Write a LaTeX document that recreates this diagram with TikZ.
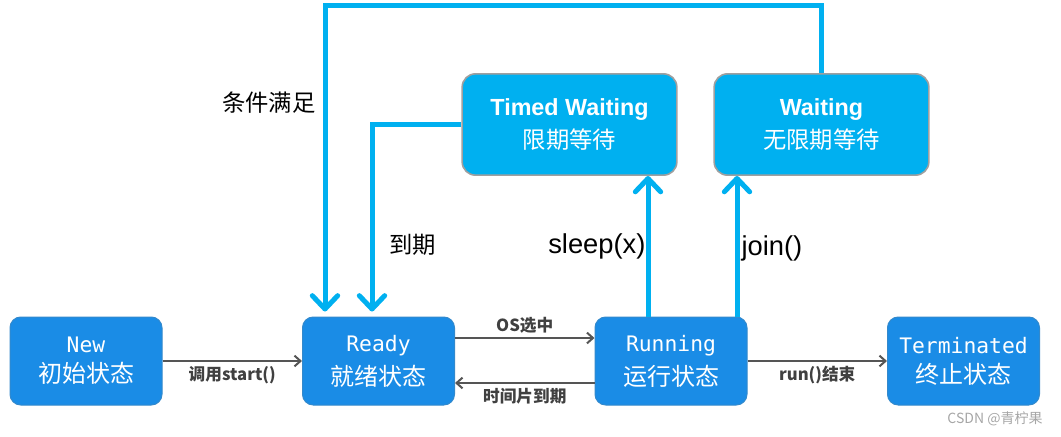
\documentclass[tikz,border=0pt]{standalone}
\usepackage{fontspec}
\setmainfont{Liberation Sans}
\newfontfamily\cjk{Noto Sans CJK SC}
\newfontfamily\monofont{DejaVu Sans Mono}
\usetikzlibrary{arrows.meta,calc}

\definecolor{stateblue}{HTML}{1A8CE6}
\definecolor{waitblue}{HTML}{00B0F0}
\definecolor{flowcyan}{HTML}{00B0F0}
\definecolor{linkgray}{HTML}{555555}
\definecolor{labelgray}{HTML}{404040}

\newcommand{\statetext}[2]{{\monofont\fontsize{16}{18}\selectfont #1}\\[6pt]{\cjk\fontsize{18}{22}\selectfont #2}}
\newcommand{\waittext}[2]{{\bfseries\fontsize{17.5}{20}\selectfont #1}\\[5pt]{\cjk\fontsize{17.5}{22}\selectfont #2}}

\tikzset{every picture/.style={line width=0.75pt}}
\tikzset{
  state/.style={draw=stateblue!75!gray, fill=stateblue, rounded corners=8pt,
    minimum width=114pt, minimum height=66pt, text=white, align=center, inner sep=0pt},
  waitstate/.style={draw=gray!75, line width=1.2pt, fill=waitblue, rounded corners=10pt,
    minimum width=161pt, minimum height=76pt, text=white, align=center, inner sep=0pt},
  flow/.style={draw=flowcyan, line width=3.75pt,
    -{Straight Barb[length=10pt, width=19pt, line width=3.75pt, round]}},
  link/.style={draw=linkgray, line width=1.5pt,
    -{Straight Barb[length=4.5pt, width=8pt, line width=1.5pt]}},
  linklabel/.style={font=\cjk\bfseries\fontsize{12.5}{14}\selectfont, text=labelgray, inner sep=3pt},
  flowlabel/.style={font=\fontsize{20.5}{24}\selectfont, inner sep=0pt},
  cjklabel/.style={font=\cjk\fontsize{17.5}{20}\selectfont, inner sep=0pt}
}

\begin{document}
\begin{tikzpicture}[x=0.75pt,y=0.75pt,yscale=-1,xscale=1]
  \useasboundingbox (0,0) rectangle (1061,436);

  % states
  \node[state] (new) at (86,361) {\statetext{New}{初始状态}};
  \node[state] (ready) at (378.5,361) {\statetext{Ready}{就绪状态}};
  \node[state] (running) at (671,361) {\statetext{Running}{运行状态}};
  \node[state] (term) at (963.5,361) {\statetext{Terminated}{终止状态}};
  \node[waitstate] (timed) at (569.5,124.5) {\waittext{Timed Waiting}{限期等待}};
  \node[waitstate] (waiting) at (821.5,124.5) {\waittext{Waiting}{无限期等待}};

  % thin transitions
  \draw[link] (new.east) -- node[linklabel,below] (lstart) {调用start()} (ready.west);
  \draw[link] ($(ready.east)+(0,-23)$) -- node[linklabel,above] (los) {OS选中} ($(running.west)+(0,-23)$);
  \draw[link] ($(running.west)+(0,22)$) -- node[linklabel,below] (lslice) {时间片到期} ($(ready.east)+(0,22)$);
  \draw[link] (running.east) -- node[linklabel,below] (lrun) {run()结束} (term.west);

  % thick transitions
  \coordinate (topleft) at (325,5);
  \draw[flow] ($(running.north)+(-23,0)$) coordinate (sl) -- (sl |- timed.south);
  \draw[flow] ($(running.north)+(66,0)$) coordinate (jn) -- (jn |- waiting.south);
  \draw[flow] (timed.west) -| ($(ready.north)+(-6.5,-5)$);
  \draw[flow] (waiting.north) |- (topleft) -- ($(ready.north)+(-53.5,-5)$);

  \node[flowlabel,anchor=east] (lsleep) at (646,246) {sleep(x)};
  \node[flowlabel,anchor=west] (ljoin) at (741,248) {join()};
  \node[cjklabel,anchor=west] (lexpire) at (389,245) {到期};
  \node[cjklabel,anchor=east] (lcond) at (316,103) {条件满足};

  \node[font=\cjk\fontsize{10.5}{12}\selectfont, text=gray!70] (mark) at (995,419) {CSDN @青柠果};
\end{tikzpicture}
\end{document}
